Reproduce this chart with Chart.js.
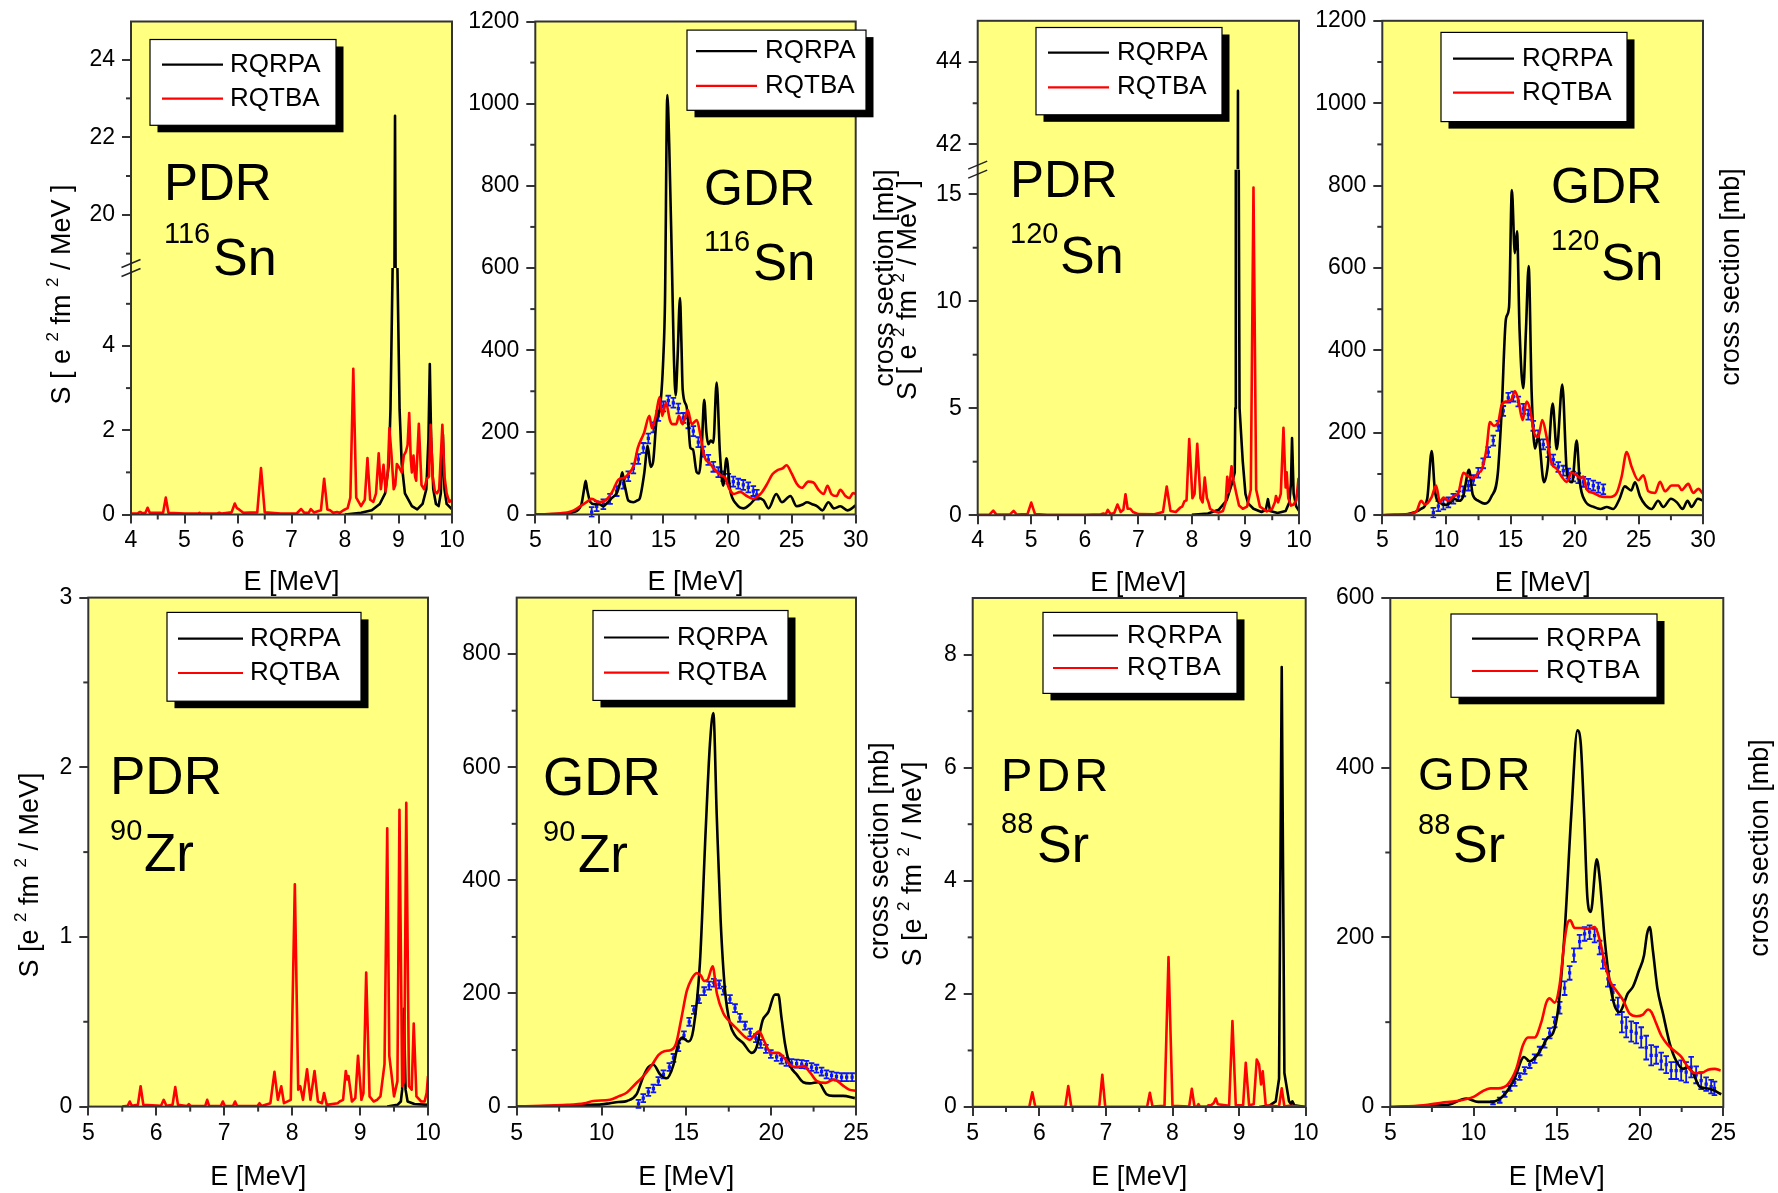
<!DOCTYPE html>
<html>
<head>
<meta charset="utf-8">
<title>PDR / GDR strength</title>
<script src="https://cdn.jsdelivr.net/npm/chart.js@4.4.1/dist/chart.umd.min.js"></script>
<style>
  body { margin: 0; background: #fff; }
  #page { position: relative; width: 1778px; height: 1193px; }
  #page canvas { position: absolute; left: 0; top: 0; }
</style>
</head>
<body>
<div id="page"></div>
<script>
// ---------- data: [E (MeV), value] ----------
const sn116PdrRqrpa = [[8.0,0.0],[8.3,0.04],[8.5,0.1],[8.65,0.25],[8.75,0.5],[8.82,1.2],[8.85,2.5],[8.89,5.85],[8.935,22.55],[8.98,5.85],[9.02,2.5],[9.06,1.2],[9.12,0.5],[9.25,0.2],[9.35,0.12],[9.45,0.25],[9.52,0.6],[9.56,1.8],[9.585,3.57],[9.61,1.8],[9.65,0.6],[9.7,0.25],[9.75,0.2],[9.79,0.5],[9.83,1.9],[9.86,0.6],[9.9,0.25],[10,0.12]];
const sn116PdrRqtba = [[4.0,0.02],[4.13,0.03],[4.17,0.06],[4.21,0.03],[4.27,0.04],[4.31,0.16],[4.35,0.04],[4.6,0.04],[4.65,0.4],[4.7,0.04],[5.0,0.02],[5.25,0.02],[5.28,0.04],[5.31,0.02],[5.6,0.02],[5.65,0.04],[5.7,0.02],[5.88,0.05],[5.94,0.26],[5.98,0.15],[6.02,0.12],[6.1,0.04],[6.36,0.05],[6.43,1.1],[6.5,0.05],[6.8,0.02],[7.1,0.03],[7.18,0.13],[7.24,0.04],[7.32,0.04],[7.36,0.13],[7.42,0.05],[7.55,0.1],[7.61,0.85],[7.67,0.12],[7.72,0.1],[7.78,0.04],[7.85,0.06],[7.9,0.04],[7.97,0.1],[8.05,0.15],[8.1,0.4],[8.155,3.46],[8.21,0.4],[8.3,0.2],[8.37,0.35],[8.42,1.34],[8.47,0.35],[8.53,0.3],[8.58,0.5],[8.63,1.45],[8.67,0.6],[8.72,1.18],[8.76,0.55],[8.8,1.0],[8.83,2.05],[8.87,1.4],[8.91,0.6],[8.94,0.7],[8.97,1.2],[9.02,1.1],[9.06,1.0],[9.1,1.4],[9.14,1.5],[9.17,1.65],[9.2,2.41],[9.23,1.3],[9.25,1.0],[9.28,1.4],[9.31,0.9],[9.33,0.8],[9.38,2.15],[9.43,0.7],[9.48,0.6],[9.53,0.85],[9.57,0.9],[9.6,2.13],[9.64,0.9],[9.68,0.55],[9.72,0.5],[9.76,0.6],[9.82,2.13],[9.86,0.9],[9.9,0.5],[9.95,0.3],[10,0.35]];

const sn116GdrRqrpa = [[5,0],[6,0.5],[7,1.5],[7.5,2],[8,6],[8.3,10],[8.6,25],[8.8,60],[8.93,82],[9.05,60],[9.3,30],[9.6,25],[10,25],[10.3,20],[10.6,28],[10.96,40],[11.35,52],[11.6,75],[11.79,103],[11.95,75],[12.05,60],[12.26,34],[12.65,30],[13.0,35],[13.16,40],[13.5,100],[13.77,167],[14.0,116],[14.2,130],[14.46,230],[14.73,260],[14.99,382],[15.12,519],[15.3,1021],[15.45,900],[15.66,611],[15.8,400],[15.95,290],[16.1,380],[16.29,527],[16.4,420],[16.5,304],[16.8,263],[16.93,226],[17.1,162],[17.3,158],[17.59,103],[17.77,100],[17.98,160],[18.18,279],[18.35,200],[18.5,171],[18.68,180],[18.89,175],[19.15,321],[19.4,153],[19.66,70],[19.92,137],[20.2,60],[20.7,25],[21.24,15],[21.76,25],[22.28,40],[22.8,35],[23.2,15],[23.8,50],[24.24,30],[24.9,45],[25.4,20],[25.9,25],[26.2,30],[26.6,25],[27.0,20],[27.4,10],[27.87,30],[28.3,15],[28.8,20],[29.35,10],[30,22]];
const sn116GdrRqtba = [[5,0],[6,1],[7,3],[7.5,5],[8,10],[8.5,20],[9,30],[9.4,38],[10,30],[10.5,35],[11,55],[11.5,85],[12,90],[12.3,100],[12.7,120],[13,162],[13.5,200],[13.9,240],[14.1,210],[14.4,240],[14.7,286],[14.9,240],[15.2,272],[15.5,230],[15.7,220],[16.0,220],[16.2,240],[16.5,220],[16.9,254],[17.2,220],[17.6,230],[17.9,190],[18.2,140],[18.6,125],[19.0,110],[19.5,95],[19.8,90],[20.1,65],[20.5,50],[21,55],[21.5,45],[22,38],[22.4,45],[22.7,55],[23.1,75],[23.5,98],[23.9,108],[24.3,112],[24.6,120],[25,100],[25.4,75],[25.8,65],[26.3,80],[26.7,78],[27.1,60],[27.5,50],[27.8,70],[28.1,50],[28.5,45],[28.8,60],[29.2,45],[29.5,40],[29.8,52],[30,50]];
// experiment: [E, sigma (mb), error]
const sn116GdrExp = [[9.4,6,12],[9.79,20,12],[10.31,25,12],[10.83,38,12],[11.35,57,12],[11.87,75,12],[12.26,93,12],[12.65,112,12],[13.04,135,12],[13.43,162,12],[13.82,185,12],[14.21,212,12],[14.6,240,12],[14.99,263,12],[15.38,277,12],[15.77,272,12],[16.16,258,12],[16.55,235,12],[16.94,222,12],[17.33,203,12],[17.72,176,12],[18.11,153,12],[18.5,133,12],[18.89,116,12],[19.28,103,12],[19.67,93,12],[20.06,87,12],[20.45,80,12],[20.84,75,12],[21.23,72,12],[21.62,66,12],[22.01,57,12],[22.28,48,12]];

const sn120PdrRqrpa = [[8.0,0.02],[8.3,0.08],[8.5,0.25],[8.65,0.7],[8.75,1.5],[8.8,2.0],[8.81,5],[8.82,16],[8.86,43.3],[8.875,16],[8.89,5],[8.95,2.5],[9.0,1.0],[9.05,0.55],[9.15,0.3],[9.3,0.15],[9.38,0.25],[9.42,0.75],[9.46,0.2],[9.6,0.1],[9.75,0.2],[9.82,0.6],[9.85,1.5],[9.87,3.6],[9.9,1.0],[9.95,0.4],[10,0.2]];
const sn120PdrRqtba = [[4,0.02],[4.22,0.03],[4.29,0.21],[4.35,0.03],[4.6,0.03],[4.67,0.2],[4.73,0.03],[4.93,0.05],[5.0,0.59],[5.07,0.05],[5.3,0.02],[5.7,0.02],[6.0,0.02],[6.3,0.04],[6.35,0.08],[6.39,0.04],[6.43,0.25],[6.48,0.06],[6.55,0.1],[6.61,0.5],[6.67,0.15],[6.72,0.25],[6.76,0.98],[6.8,0.3],[6.85,0.3],[6.9,0.15],[7.0,0.05],[7.3,0.04],[7.46,0.15],[7.53,1.34],[7.6,0.2],[7.7,0.15],[7.78,0.35],[7.82,0.4],[7.86,0.65],[7.9,0.7],[7.95,3.56],[8.01,0.8],[8.05,1.0],[8.1,3.34],[8.16,0.8],[8.2,0.6],[8.24,1.76],[8.28,0.8],[8.31,0.6],[8.34,0.3],[8.4,0.2],[8.5,0.12],[8.58,0.2],[8.63,0.6],[8.66,1.8],[8.69,1.1],[8.74,2.29],[8.78,1.6],[8.83,1.0],[8.88,0.45],[8.95,0.3],[9.03,0.4],[9.1,1.2],[9.15,15.31],[9.2,1.2],[9.27,0.4],[9.4,0.18],[9.5,0.3],[9.55,0.6],[9.57,0.9],[9.61,0.6],[9.66,1.0],[9.71,4.09],[9.75,1.3],[9.77,2.0],[9.8,0.8],[9.85,0.45],[9.9,0.5],[9.95,0.7],[9.99,1.7],[10,1.65]];

const sn120GdrRqrpa = [[5,0],[6,1],[7,3],[8,15],[8.5,40],[8.85,156],[9.1,60],[9.5,30],[10,25],[10.3,30],[10.6,40],[11,35],[11.3,45],[11.76,110],[12.05,50],[12.5,35],[13,28],[13.5,45],[14,100],[14.3,250],[14.64,477],[14.88,505],[15.1,789],[15.33,636],[15.5,689],[15.7,450],[15.99,308],[16.2,450],[16.41,605],[16.64,300],[16.9,162],[17.16,190],[17.6,80],[17.9,120],[18.28,271],[18.6,160],[19.03,317],[19.4,100],[19.8,80],[20.15,181],[20.4,80],[20.8,35],[21.5,20],[22,15],[22.5,20],[23,15],[23.5,40],[23.9,70],[24.4,60],[24.7,80],[25.1,45],[25.5,25],[26,15],[26.5,35],[26.9,20],[27.5,40],[28,30],[28.4,15],[28.8,35],[29.1,20],[29.6,40],[30,35]];
const sn120GdrRqtba = [[5,0],[6,1],[7.16,3],[7.68,10],[8.02,35],[8.33,26],[8.85,44],[9.19,72],[9.5,31],[9.76,43],[10.15,35],[10.54,46],[10.93,54],[11.32,103],[11.71,94],[12.1,90],[12.48,103],[12.74,110],[13.13,162],[13.39,226],[13.7,217],[14.04,226],[14.3,267],[14.69,276],[15.03,279],[15.34,301],[15.6,280],[15.94,231],[16.25,276],[16.51,258],[16.9,194],[17.16,190],[17.47,231],[17.81,190],[18.2,126],[18.59,113],[18.98,94],[19.37,81],[19.76,103],[20.15,97],[20.46,90],[20.67,94],[20.93,63],[21.45,54],[21.97,46],[22.75,44],[23.27,54],[23.66,94],[24.05,153],[24.44,117],[24.96,85],[25.35,97],[25.74,58],[26.26,54],[26.65,81],[27.04,58],[27.56,72],[28.08,72],[28.33,61],[28.85,76],[29.24,54],[29.63,64],[30,52]];
const sn120GdrExp = [[8.98,6,12],[9.37,22,12],[9.76,26,12],[10.15,31,12],[10.54,40,12],[10.93,46,12],[11.32,58,12],[11.71,72,12],[12.1,85,12],[12.48,103,12],[12.87,126,12],[13.26,153,12],[13.65,181,12],[14.04,217,12],[14.43,253,12],[14.82,285,12],[15.21,288,12],[15.6,276,12],[15.99,258,12],[16.38,244,12],[16.77,217,12],[17.16,194,12],[17.55,172,12],[17.94,153,12],[18.33,135,12],[18.72,117,12],[19.11,108,12],[19.5,101,12],[19.89,94,12],[20.28,90,12],[20.67,81,12],[21.06,76,12],[21.45,72,12],[21.84,67,12],[22.23,63,12]];

const zr90PdrRqrpa = [[9.4,0],[9.55,0.01],[9.6,0.03],[9.62,0.1],[9.645,0.576],[9.67,0.1],[9.7,0.03],[9.8,0.015],[10,0.01]];
const zr90PdrRqtba = [[5.5,0],[5.58,0.005],[5.61,0.03],[5.64,0.005],[5.73,0.01],[5.77,0.12],[5.81,0.01],[6.07,0.005],[6.11,0.04],[6.15,0.005],[6.24,0.01],[6.28,0.115],[6.32,0.01],[6.45,0.003],[6.48,0.015],[6.51,0.003],[6.72,0.003],[6.75,0.04],[6.78,0.003],[6.95,0.003],[6.98,0.03],[7.01,0.003],[7.13,0.003],[7.16,0.03],[7.19,0.003],[7.49,0.003],[7.52,0.02],[7.55,0.003],[7.68,0.02],[7.74,0.205],[7.79,0.04],[7.84,0.12],[7.88,0.02],[7.98,0.04],[8.04,1.31],[8.09,0.1],[8.12,0.12],[8.16,0.04],[8.22,0.22],[8.27,0.04],[8.33,0.21],[8.38,0.03],[8.44,0.02],[8.47,0.08],[8.51,0.01],[8.67,0.02],[8.7,0.03],[8.75,0.04],[8.79,0.21],[8.81,0.16],[8.83,0.18],[8.88,0.03],[8.93,0.05],[8.97,0.3],[9.02,0.04],[9.05,0.08],[9.09,0.79],[9.14,0.06],[9.2,0.03],[9.25,0.04],[9.3,0.06],[9.36,0.25],[9.4,1.64],[9.43,0.3],[9.46,0.2],[9.5,0.06],[9.55,0.15],[9.58,1.75],[9.62,0.12],[9.65,0.15],[9.68,1.79],[9.72,0.12],[9.76,0.1],[9.79,0.49],[9.83,0.06],[9.9,0.03],[9.95,0.03],[9.98,0.08],[10,0.18]];

const zr90GdrRqrpa = [[5,0],[7,1],[8,2],[9,3],[10,4],[10.5,6],[11,8],[11.5,10],[12.07,22],[12.46,53],[12.76,70],[13.06,74],[13.45,57],[13.85,50],[14.24,74],[14.53,112],[14.76,122],[15.12,115],[15.41,136],[15.8,254],[16.14,489],[16.39,641],[16.59,696],[16.79,516],[17.02,330],[17.28,205],[17.57,147],[17.87,126],[18.36,112],[18.85,95],[19.14,105],[19.5,153],[19.83,167],[20.22,198],[20.42,198],[20.61,157],[20.81,112],[21.1,74],[21.5,57],[21.89,43],[22.28,41],[22.77,43],[23.26,22],[23.65,19],[24.24,19],[24.93,15]];
const zr90GdrRqtba = [[5,0],[7,2],[8,3],[9,6],[9.51,10],[10.5,12],[11,18],[11.5,25],[12,40],[12.5,55],[13,75],[13.35,91],[13.7,98],[14.1,100],[14.4,112],[14.7,155],[15.03,205],[15.3,225],[15.62,236],[15.85,232],[16.05,222],[16.25,224],[16.55,248],[16.8,200],[17.18,165],[17.5,152],[18,137],[18.5,122],[18.75,118],[19.0,126],[19.28,133],[19.6,115],[20,95],[20.4,95],[20.8,85],[21.2,72],[21.5,70],[21.9,72],[22.3,60],[22.7,45],[23.2,42],[23.7,48],[24.2,38],[24.6,30],[25,28]];
const zr90GdrExp = [[12.18,5,7],[12.46,15,7],[12.76,26,7],[13.06,32,7],[13.35,45,7],[13.65,57,7],[14.0,70,7],[14.24,86,7],[14.53,105,7],[14.86,126,7],[15.17,150,7],[15.44,171,7],[15.75,190,7],[16.05,204,7],[16.34,214,7],[16.62,219,7],[16.93,216,7],[17.2,205,7],[17.57,190,7],[17.87,174,7],[18.16,157,7],[18.46,143,7],[18.76,131,7],[19.1,121,7],[19.38,111,7],[19.69,102,7],[19.98,93,7],[20.32,88,7],[20.61,83,7],[20.9,79,7],[21.2,77,7],[21.5,76,7],[21.8,75,7],[22.08,74,7],[22.38,70,7],[22.67,67,7],[22.97,62,7],[23.26,57,7],[23.56,55,7],[23.85,53,7],[24.15,52,7],[24.45,52,7],[24.77,52,7]];

const sr88PdrRqrpa = [[9.3,0],[9.45,0.02],[9.55,0.1],[9.6,0.5],[9.64,7.78],[9.68,0.6],[9.75,0.1],[9.78,0.05],[9.8,0.1],[9.83,0.03],[10,0]];
const sr88PdrRqtba = [[5,0],[5.85,0.005],[5.895,0.26],[5.94,0.005],[6.39,0.005],[6.435,0.37],[6.48,0.005],[6.9,0.005],[6.946,0.57],[6.99,0.005],[7.62,0.01],[7.66,0.25],[7.7,0.01],[7.88,0.02],[7.94,2.65],[8.0,0.02],[8.25,0.01],[8.29,0.32],[8.33,0.01],[8.37,0.01],[8.39,0.05],[8.41,0.01],[8.52,0.01],[8.54,0.03],[8.58,0.03],[8.62,0.07],[8.65,0.15],[8.68,0.05],[8.85,0.02],[8.9,1.52],[8.95,0.03],[9.06,0.03],[9.1,0.78],[9.15,0.03],[9.22,0.05],[9.265,0.84],[9.3,0.75],[9.33,0.4],[9.355,0.63],[9.4,0.03],[9.6,0.01],[9.64,0.33],[9.68,0.01],[9.75,0.02],[10,0]];

const sr88GdrRqrpa = [[5,0],[7,1],[8,2],[8.56,3],[9.57,10],[10.27,6],[11.07,6],[11.87,15],[12.47,34],[13.03,59],[13.37,54],[13.77,60],[14.11,70],[14.47,82],[14.77,87],[15.07,114],[15.47,206],[15.87,345],[16.24,444],[16.44,428],[16.64,345],[16.84,246],[17.04,230],[17.4,292],[17.58,269],[17.88,197],[18.18,147],[18.48,119],[18.78,112],[18.98,119],[19.24,133],[19.58,142],[19.92,160],[20.24,179],[20.42,204],[20.58,212],[20.78,183],[21.04,140],[21.38,110],[21.78,75],[22.18,54],[22.58,45],[22.88,47],[23.18,40],[23.58,24],[23.98,22],[24.38,20],[24.88,15]];
const sr88GdrRqtba = [[5,0],[7,2],[8.07,5],[9,7],[10,12],[10.5,18],[11,22],[11.47,22],[12.07,27],[12.57,45],[12.97,73],[13.27,82],[13.67,82],[14.07,100],[14.37,123],[14.57,128],[14.87,123],[15.17,144],[15.47,197],[15.67,218],[15.81,220],[16.07,211],[16.47,211],[16.88,210],[17.28,212],[17.58,197],[17.88,170],[18.18,149],[18.58,137],[18.98,126],[19.38,110],[19.78,107],[20.18,109],[20.48,115],[20.68,112],[20.98,98],[21.28,84],[21.68,73],[22.08,66],[22.48,59],[22.88,47],[23.28,40],[23.68,40],[24.08,44],[24.48,45],[24.84,43]];
const sr88GdrExp = [[11.17,5,2],[11.57,8,3],[11.87,15,3],[12.17,22,3],[12.47,29,4],[12.77,36,4],[13.07,43,4],[13.37,50,4],[13.67,57,5],[13.97,66,5],[14.27,75,5],[14.57,87,6],[14.87,100,6],[15.17,117,7],[15.47,140,8],[15.77,158,8],[16.03,179,8],[16.37,195,8],[16.67,204,8],[16.97,206,8],[17.27,202,8],[17.57,188,8],[17.77,172,9],[18.07,151,9],[18.37,135,9],[18.67,119,10],[18.91,100,12],[19.17,94,12],[19.47,89,12],[19.77,87,12],[20.07,82,12],[20.37,70,14],[20.67,61,12],[20.97,61,10],[21.27,54,10],[21.57,50,10],[21.87,43,10],[22.17,43,10],[22.47,43,12],[22.77,41,12],[23.07,47,12],[23.37,38,10],[23.67,31,10],[23.97,27,8],[24.27,24,8],[24.47,22,8]];

// ---------- tick values ----------
const pdrTopX = [4, 5, 6, 7, 8, 9, 10];
const pdrTopXMinor = [4.5, 5.5, 6.5, 7.5, 8.5, 9.5];
const gdrTopX = [5, 10, 15, 20, 25, 30];
const gdrTopXMinor = [7.5, 12.5, 17.5, 22.5, 27.5];
const pdrBotX = [5, 6, 7, 8, 9, 10];
const pdrBotXMinor = [5.5, 6.5, 7.5, 8.5, 9.5];
const gdrBotX = [5, 10, 15, 20, 25];
const gdrBotXMinor = [7.5, 12.5, 17.5, 22.5];
const sn116LoY = [0, 2, 4], sn116LoYMinor = [1, 3, 5];
const sn116HiY = [20, 22, 24], sn116HiYMinor = [19, 21, 23];
const sn120LoY = [0, 5, 10, 15], sn120LoYMinor = [2.5, 7.5, 12.5];
const sn120HiY = [42, 44], sn120HiYMinor = [43];
const snGdrY = [0, 200, 400, 600, 800, 1000, 1200], snGdrYMinor = [100, 300, 500, 700, 900, 1100];
const zrPdrY = [0, 1, 2, 3], zrPdrYMinor = [0.5, 1.5, 2.5];
const zrGdrY = [0, 200, 400, 600, 800], zrGdrYMinor = [100, 300, 500, 700];
const srPdrY = [0, 2, 4, 6, 8], srPdrYMinor = [1, 3, 5, 7];
const srGdrY = [0, 200, 400, 600], srGdrYMinor = [100, 300, 500];

// ---------- look ----------
const W = 1778, H = 1193, YW = 80;
const FONT = '"Liberation Sans", Arial, Helvetica, sans-serif';
const YELLOW = '#ffff80', RED = '#ff0000', BLUE = '#0a14ff', AXIS = '#333';
const S_TOP = 'S [ e ^2 fm ^2 / MeV ]';
const S_BOT = 'S [e ^2 fm ^2 / MeV]';
const XS = 'cross section [mb]';
Chart.defaults.font.family = FONT;
Chart.defaults.color = '#000';

function seg(ctx, x1, y1, x2, y2) {
    ctx.beginPath();
    ctx.moveTo(x1, y1);
    ctx.lineTo(x2, y2);
    ctx.stroke();
}

// vertical text with superscripts marked as ^2
function drawRotated(ctx, item) {
    const parts = item.t.split(/(\^\d)/).filter(s => s).map(s => s[0] === '^' ? {t: s.slice(1), sup: true} : {t: s, sup: false});
    const small = Math.round(item.size * 0.64);
    let total = 0;
    const widths = parts.map(p => {
        ctx.font = (p.sup ? small : item.size) + 'px ' + FONT;
        const w = ctx.measureText(p.t).width;
        total += w;
        return w;
    });
    ctx.save();
    ctx.translate(item.x, item.y);
    ctx.rotate(-Math.PI / 2);
    ctx.fillStyle = '#000';
    ctx.textBaseline = 'middle';
    let x = -total / 2;
    parts.forEach((p, i) => {
        ctx.font = (p.sup ? small : item.size) + 'px ' + FONT;
        ctx.fillText(p.t, x, p.sup ? -item.size * 0.36 : 0);
        x += widths[i];
    });
    ctx.restore();
}

const panelPlugin = {
    id: 'panel',
    beforeDraw(chart) {
        const a = chart.chartArea, ctx = chart.ctx;
        ctx.save();
        ctx.fillStyle = YELLOW;
        ctx.fillRect(a.left, a.top, a.right - a.left, a.bottom - a.top);
        ctx.restore();
    },
    // keep each dataset inside its own (possibly broken) y range
    beforeDatasetDraw(chart, args) {
        const a = chart.chartArea, ys = chart.scales[args.meta.yAxisID], ctx = chart.ctx;
        const top = ys.top > a.top + 1 ? ys.top : a.top - 3;
        const bottom = ys.bottom < a.bottom - 1 ? ys.bottom : a.bottom + 3;
        ctx.save();
        ctx.beginPath();
        ctx.rect(a.left - 3, top, a.right - a.left + 6, bottom - top);
        ctx.clip();
    },
    afterDatasetDraw(chart, args) {
        const ctx = chart.ctx, ds = chart.data.datasets[args.index];
        if (ds.errorBars) {
            const xs = args.meta.xScale, ys = args.meta.yScale;
            ctx.strokeStyle = ds.borderColor;
            ctx.lineWidth = 1.8;
            ds.data.forEach(p => {
                const x = xs.getPixelForValue(p[0]);
                const y1 = ys.getPixelForValue(p[1] - p[2]);
                const y2 = ys.getPixelForValue(p[1] + p[2]);
                seg(ctx, x, y1, x, y2);
                seg(ctx, x - 2.8, y1, x + 2.8, y1);
                seg(ctx, x - 2.8, y2, x + 2.8, y2);
            });
        }
        ctx.restore();
    },
    afterDraw(chart, args, o) {
        const a = chart.chartArea, ctx = chart.ctx;
        ctx.save();
        ctx.strokeStyle = AXIS;
        ctx.lineWidth = 2;
        ctx.strokeRect(a.left, a.top, a.right - a.left, a.bottom - a.top);

        // minor ticks
        const xs = chart.scales.x;
        o.xMinor.forEach(v => {
            const px = xs.getPixelForValue(v);
            seg(ctx, px, a.bottom, px, a.bottom + 5);
        });
        Object.keys(o.yMinor).forEach(id => {
            const s = chart.scales[id];
            o.yMinor[id].forEach(v => {
                const py = s.getPixelForValue(v);
                if (py >= s.top - 0.5 && py <= s.bottom + 0.5) seg(ctx, a.left - 5, py, a.left, py);
            });
        });

        // axis break marks
        if (o.breakAxis) {
            const by = chart.scales[o.breakAxis].bottom;
            ctx.lineWidth = 1.5;
            ctx.strokeStyle = '#222';
            [-4.5, 4.5].forEach(d => seg(ctx, a.left - 9.5, by + d + 4, a.left + 9.5, by + d - 4));
        }

        // legend box with drop shadow
        const lg = o.legend;
        const [bx, by, bw, bh] = lg.box;
        ctx.fillStyle = '#000';
        ctx.fillRect(bx + 7.5, by + 7, bw, bh);
        ctx.fillStyle = '#fff';
        ctx.fillRect(bx, by, bw, bh);
        ctx.lineWidth = 1.2;
        ctx.strokeStyle = '#000';
        ctx.strokeRect(bx, by, bw, bh);
        ['RQRPA', 'RQTBA'].forEach((lab, i) => {
            const ds = chart.data.datasets.find(d => d.label === lab);
            ctx.strokeStyle = ds.borderColor;
            ctx.lineWidth = 2.2;
            seg(ctx, lg.line[0], lg.rows[i], lg.line[1], lg.rows[i]);
            ctx.fillStyle = '#000';
            ctx.font = '26px ' + FONT;
            ctx.letterSpacing = (lg.ls || 0) + 'px';
            ctx.textBaseline = 'middle';
            ctx.fillText(lab, lg.textX, lg.rows[i]);
        });

        // in-plot labels
        ctx.textBaseline = 'alphabetic';
        ctx.fillStyle = '#000';
        o.texts.forEach(t => {
            ctx.font = t.size + 'px ' + FONT;
            ctx.letterSpacing = (t.ls || 0) + 'px';
            ctx.fillText(t.t, t.x, t.y);
        });
        ctx.letterSpacing = '0px';
        o.rotated.forEach(t => drawRotated(ctx, t));
        ctx.restore();
    }
};

function xAxis(p) {
    return {
        type: 'linear', min: p.xTicks[0], max: p.xTicks[p.xTicks.length - 1],
        afterBuildTicks: s => { s.ticks = p.xTicks.map(v => ({value: v})); },
        afterFit: s => { s.height = p.xh; },
        ticks: {font: {size: 23}, color: '#000', padding: p.xPad, maxRotation: 0, autoSkip: false, callback: v => String(v)},
        grid: {drawOnChartArea: false, tickLength: 9, color: AXIS, lineWidth: 2},
        border: {display: false},
        title: {display: true, text: 'E [MeV]', font: {size: 27, lineHeight: 1}, color: '#000', padding: 0}
    };
}

function yAxis(y, stacked) {
    const ax = {
        type: 'linear', position: 'left', min: y.min, max: y.max,
        afterBuildTicks: s => { s.ticks = y.ticks.map(v => ({value: v})); },
        afterFit: s => { s.width = YW; },
        ticks: {font: {size: 23}, color: '#000', padding: 7, autoSkip: false, callback: v => String(v)},
        grid: {drawOnChartArea: false, tickLength: 9, color: AXIS, lineWidth: 2},
        border: {display: false}
    };
    if (stacked) {
        ax.stack = 'broken';
        ax.stackWeight = y.weight;
    }
    return ax;
}

function buildPanel(p) {
    const canvas = document.createElement('canvas');
    canvas.width = W;
    canvas.height = H;
    document.getElementById('page').appendChild(canvas);
    const [L, T, R, B] = p.area;
    const ids = Object.keys(p.y);
    const scales = {x: xAxis(p)};
    ids.forEach(id => { scales[id] = yAxis(p.y[id], ids.length > 1); });

    const datasets = [];
    p.lines.forEach(ln => {
        ln.axes.forEach((id, k) => {
            datasets.push({
                label: k === 0 ? ln.label : ln.label + ' ',
                data: ln.data, yAxisID: id,
                borderColor: ln.color, borderWidth: 2.6, borderJoinStyle: 'round',
                pointRadius: 0, tension: 0, cubicInterpolationMode: p.smooth ? 'monotone' : 'default', fill: false
            });
        });
    });
    if (p.exp) {
        datasets.push({
            label: 'exp', data: p.exp, yAxisID: ids[0], showLine: false,
            pointStyle: 'rect', pointRadius: 2.3, backgroundColor: BLUE, borderColor: BLUE, borderWidth: 0,
            errorBars: true
        });
    }

    const yMinor = {};
    ids.forEach(id => { yMinor[id] = p.y[id].minor; });

    return new Chart(canvas, {
        type: 'line',
        data: {datasets: datasets},
        options: {
            responsive: false, animation: false, events: [],
            layout: {padding: {left: L - YW, top: T, right: W - R, bottom: H - B - p.xh}},
            scales: scales,
            plugins: {
                legend: {display: false}, tooltip: {enabled: false},
                panel: {xMinor: p.xMinor, yMinor: yMinor, breakAxis: p.breakAxis, legend: p.legend, texts: p.texts, rotated: p.rotated}
            }
        },
        plugins: [panelPlugin]
    });
}

const panels = [
    {   // 116Sn PDR, broken axis
        area: [131, 21.5, 452, 514.5], xh: 82, xPad: 3, xTicks: pdrTopX, xMinor: pdrTopXMinor,
        y: {yLo: {min: 0, max: 5.85, ticks: sn116LoY, minor: sn116LoYMinor, weight: 1},
            yHi: {min: 18.63, max: 24.98, ticks: sn116HiY, minor: sn116HiYMinor, weight: 1}},
        breakAxis: 'yHi',
        lines: [{label: 'RQTBA', data: sn116PdrRqtba, color: RED, axes: ['yLo']},
                {label: 'RQRPA', data: sn116PdrRqrpa, color: '#000', axes: ['yLo', 'yHi']}],
        legend: {box: [150, 39.5, 186, 85.8], rows: [64.7, 98.6], line: [162, 223], textX: 230},
        texts: [{t: 'PDR', x: 164, y: 199.5, size: 51}, {t: '116', x: 164, y: 243, size: 29}, {t: 'Sn', x: 213, y: 274.7, size: 52}],
        rotated: [{t: S_TOP, x: 63, y: 294.5, size: 27}]
    },
    {   // 116Sn GDR
        area: [535.3, 21.5, 855.7, 514.5], xh: 82, xPad: 3, xTicks: gdrTopX, xMinor: gdrTopXMinor, smooth: true,
        y: {y: {min: 0, max: 1200, ticks: snGdrY, minor: snGdrYMinor}},
        lines: [{label: 'RQTBA', data: sn116GdrRqtba, color: RED, axes: ['y']},
                {label: 'RQRPA', data: sn116GdrRqrpa, color: '#000', axes: ['y']}],
        exp: sn116GdrExp,
        legend: {box: [687, 30.1, 179, 80.2], rows: [51.2, 85.8], line: [696, 757], textX: 765},
        texts: [{t: 'GDR', x: 704, y: 205, size: 50}, {t: '116', x: 704, y: 251, size: 29}, {t: 'Sn', x: 753, y: 280, size: 51}],
        rotated: [{t: XS, x: 886, y: 278, size: 27}]
    },
    {   // 120Sn PDR, broken axis
        area: [977.7, 17.7, 1299, 515.2], xh: 82, xPad: 3, xTicks: pdrTopX, xMinor: pdrTopXMinor,
        y: {yLo: {min: 0, max: 16.15, ticks: sn120LoY, minor: sn120LoYMinor, weight: 0.699},
            yHi: {min: 41.39, max: 45, ticks: sn120HiY, minor: sn120HiYMinor, weight: 0.301}},
        breakAxis: 'yHi',
        lines: [{label: 'RQTBA', data: sn120PdrRqtba, color: RED, axes: ['yLo']},
                {label: 'RQRPA', data: sn120PdrRqrpa, color: '#000', axes: ['yLo', 'yHi']}],
        legend: {box: [1036, 27.5, 186, 87.3], rows: [52.7, 87.3], line: [1048, 1109], textX: 1117},
        texts: [{t: 'PDR', x: 1010, y: 196.5, size: 51}, {t: '120', x: 1010, y: 242.8, size: 29}, {t: 'Sn', x: 1060, y: 272.9, size: 52}],
        rotated: [{t: S_TOP, x: 909, y: 290, size: 27}]
    },
    {   // 120Sn GDR
        area: [1382.3, 17.7, 1703, 515.2], xh: 82, xPad: 3, xTicks: gdrTopX, xMinor: gdrTopXMinor, smooth: true,
        y: {y: {min: 0, max: 1200, ticks: snGdrY, minor: snGdrYMinor}},
        lines: [{label: 'RQTBA', data: sn120GdrRqtba, color: RED, axes: ['y']},
                {label: 'RQRPA', data: sn120GdrRqrpa, color: '#000', axes: ['y']}],
        exp: sn120GdrExp,
        legend: {box: [1441, 32.4, 186, 89.2], rows: [58.7, 92.6], line: [1453, 1514], textX: 1522},
        texts: [{t: 'GDR', x: 1551, y: 203, size: 50}, {t: '120', x: 1551, y: 250, size: 29}, {t: 'Sn', x: 1601, y: 280, size: 51}],
        rotated: [{t: XS, x: 1732, y: 277, size: 27}]
    },
    {   // 90Zr PDR
        area: [88.3, 597.6, 428, 1106.6], xh: 84, xPad: 4, xTicks: pdrBotX, xMinor: pdrBotXMinor,
        y: {y: {min: 0, max: 3, ticks: zrPdrY, minor: zrPdrYMinor}},
        lines: [{label: 'RQTBA', data: zr90PdrRqtba, color: RED, axes: ['y']},
                {label: 'RQRPA', data: zr90PdrRqrpa, color: '#000', axes: ['y']}],
        legend: {box: [167, 612.4, 194, 88.8], rows: [638.6, 673], line: [178, 243], textX: 250},
        texts: [{t: 'PDR', x: 110, y: 793.8, size: 53}, {t: '90', x: 110, y: 840, size: 29}, {t: 'Zr', x: 144, y: 871, size: 53}],
        rotated: [{t: S_BOT, x: 31, y: 875, size: 27}]
    },
    {   // 90Zr GDR
        area: [516.7, 597.6, 856, 1106.6], xh: 84, xPad: 4, xTicks: gdrBotX, xMinor: gdrBotXMinor, smooth: true,
        y: {y: {min: 0, max: 900, ticks: zrGdrY, minor: zrGdrYMinor}},
        lines: [{label: 'RQTBA', data: zr90GdrRqtba, color: RED, axes: ['y']},
                {label: 'RQRPA', data: zr90GdrRqrpa, color: '#000', axes: ['y']}],
        exp: zr90GdrExp,
        legend: {box: [593, 610.5, 195, 89.9], rows: [637.5, 672.6], line: [604, 669], textX: 677},
        texts: [{t: 'GDR', x: 543, y: 795, size: 53}, {t: '90', x: 543, y: 841, size: 29}, {t: 'Zr', x: 578, y: 872, size: 53}],
        rotated: [{t: XS, x: 881, y: 851, size: 27}]
    },
    {   // 88Sr PDR
        area: [972.7, 598, 1305.7, 1107], xh: 84, xPad: 4, xTicks: pdrBotX, xMinor: pdrBotXMinor,
        y: {y: {min: 0, max: 9, ticks: srPdrY, minor: srPdrYMinor}},
        lines: [{label: 'RQTBA', data: sr88PdrRqtba, color: RED, axes: ['y']},
                {label: 'RQRPA', data: sr88PdrRqrpa, color: '#000', axes: ['y']}],
        legend: {box: [1043, 612.4, 194, 81], rows: [635.5, 668], line: [1053, 1118], textX: 1127, ls: 1},
        texts: [{t: 'PDR', x: 1001, y: 791, size: 47, ls: 4}, {t: '88', x: 1001, y: 833, size: 29}, {t: 'Sr', x: 1037, y: 861.5, size: 52}],
        rotated: [{t: S_BOT, x: 914, y: 864, size: 27}]
    },
    {   // 88Sr GDR
        area: [1390.3, 598, 1723.3, 1107], xh: 84, xPad: 4, xTicks: gdrBotX, xMinor: gdrBotXMinor, smooth: true,
        y: {y: {min: 0, max: 600, ticks: srGdrY, minor: srGdrYMinor}},
        lines: [{label: 'RQTBA', data: sr88GdrRqtba, color: RED, axes: ['y']},
                {label: 'RQRPA', data: sr88GdrRqrpa, color: '#000', axes: ['y']}],
        exp: sr88GdrExp,
        legend: {box: [1451, 614, 206, 83.3], rows: [638.6, 671], line: [1472, 1538], textX: 1546, ls: 1},
        texts: [{t: 'GDR', x: 1418, y: 790, size: 47, ls: 4}, {t: '88', x: 1418, y: 834, size: 29}, {t: 'Sr', x: 1453, y: 862, size: 52}],
        rotated: [{t: XS, x: 1761, y: 848, size: 27}]
    }
];

panels.forEach(buildPanel);
</script>
</body>
</html>
